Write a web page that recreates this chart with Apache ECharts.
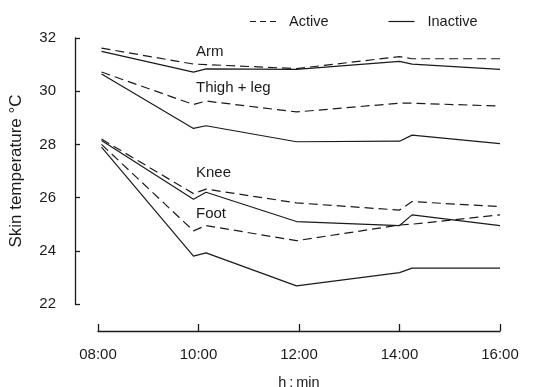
<!DOCTYPE html>
<html>
<head>
<meta charset="utf-8">
<script src="https://cdn.jsdelivr.net/npm/echarts@6/dist/echarts.min.js"></script>
<style>
html,body{margin:0;padding:0;background:#fff;}
#c{width:544px;height:387px;}
</style>
</head>
<body>
<div id="c"></div>
<script>
// Time of measurement (hours)
const times = [8.07, 9.9, 10.15, 11.95, 14.0, 14.25, 16.0];
const xTickLabels = {8: "08:00", 10: "10:00", 12: "12:00", 14: "14:00", 16: "16:00"};
const yTicks = [22, 24, 26, 28, 30, 32];

// Skin temperatures (°C)
const armActive     = [31.62, 31.02, 31.0, 30.85, 31.3, 31.22, 31.22];
const armInactive   = [31.5, 30.72, 30.84, 30.82, 31.12, 31.02, 30.82];
const thighActive   = [30.72, 29.5, 29.63, 29.22, 29.55, 29.55, 29.44];
const thighInactive = [30.65, 28.6, 28.7, 28.1, 28.12, 28.35, 28.03];
const kneeActive    = [28.2, 26.15, 26.32, 25.8, 25.53, 25.85, 25.66];
const kneeInactive  = [28.15, 25.94, 26.2, 25.1, 24.95, 25.35, 24.95];
const footActive    = [28.0, 24.75, 24.95, 24.38, 24.97, 25.0, 25.35];
const footInactive  = [27.9, 23.8, 23.92, 22.68, 23.18, 23.35, 23.35];

const regionLabels = [
  {text: "Arm", t: 9.95, v: 31.47},
  {text: "Thigh + leg", t: 9.95, v: 30.12},
  {text: "Knee", t: 9.95, v: 26.93},
  {text: "Foot", t: 9.95, v: 25.4}
];

const ink = "#1a1a1a";
const font = "Liberation Sans";

function pairs(vals){ return times.map((t,i)=>[t, vals[i]]); }

function mk(name, vals, dashed, extra){
  const s = {
    name: name, type: "line", data: pairs(vals), symbol: "none",
    lineStyle: {color: ink, width: 1.2, type: dashed ? [9,5] : "solid"},
    itemStyle: {color: ink},
    silent: true, animation: false
  };
  return Object.assign(s, extra || {});
}

const labelPoints = regionLabels.map(l => ({
  coord: [l.t, l.v], value: l.text,
  label: {show: true, formatter: l.text, position: "inside", align: "left",
          color: ink, fontSize: 15, fontFamily: font},
  symbolSize: 0
}));

const series = [
  mk("Active", armActive, true, {markPoint: {symbol: "circle", symbolSize: 0, data: labelPoints, animation:false}}),
  mk("Active", thighActive, true),
  mk("Active", kneeActive, true),
  mk("Active", footActive, true),
  mk("Inactive", armInactive, false),
  mk("Inactive", thighInactive, false),
  mk("Inactive", kneeInactive, false),
  mk("Inactive", footInactive, false)
];

const dashIcon = "path://M0,0h6v1.2h-6z M10,0h6v1.2h-6z M20,0h6v1.2h-6z";
const solidIcon = "path://M0,0h26v1.2h-26z";

const chart = echarts.init(document.getElementById("c"), null, {renderer: "canvas"});
chart.setOption({
  backgroundColor: "#fff",
  animation: false,
  textStyle: {fontFamily: font, color: ink},
  legend: {
    data: [{name: "Active", icon: dashIcon}, {name: "Inactive", icon: solidIcon}],
    top: 9, left: 245,
    itemWidth: 26, itemHeight: 1.2, itemGap: 60,
    itemStyle: {color: ink, borderWidth: 0},
    lineStyle: {width: 0},
    textStyle: {fontSize: 14.5, color: ink, fontFamily: font, padding: [0,0,0,8]},
    selectedMode: false
  },
  grid: {left: 98, right: 44, top: 38, bottom: 83, containLabel: false, outerBoundsMode: "none"},
  xAxis: {
    type: "value", min: 8, max: 16, interval: 2,
    offset: 27,
    name: "h\u2009:\u2009min", nameLocation: "middle", nameGap: 44,
    nameTextStyle: {fontSize: 14.5, color: ink, fontFamily: font},
    axisLine: {show: true, lineStyle: {color: ink, width: 1.3}},
    axisTick: {show: true, inside: true, length: 7, lineStyle: {color: ink, width: 1.3}},
    axisLabel: {fontSize: 15, color: ink, margin: 16, fontFamily: font,
                formatter: v => xTickLabels[v] || ""},
    splitLine: {show: false}
  },
  yAxis: {
    type: "value", min: yTicks[0], max: yTicks[yTicks.length-1], interval: 2,
    offset: 23,
    name: "Skin temperature °C", nameLocation: "middle", nameGap: 50, nameRotate: 90,
    nameTextStyle: {fontSize: 17, color: ink, fontFamily: font},
    axisLine: {show: true, lineStyle: {color: ink, width: 1.3}},
    axisTick: {show: true, inside: true, length: 5, lineStyle: {color: ink, width: 1.3}},
    axisLabel: {fontSize: 15, color: ink, margin: 19, fontFamily: font},
    splitLine: {show: false}
  },
  series: series
});
</script>
</body>
</html>
